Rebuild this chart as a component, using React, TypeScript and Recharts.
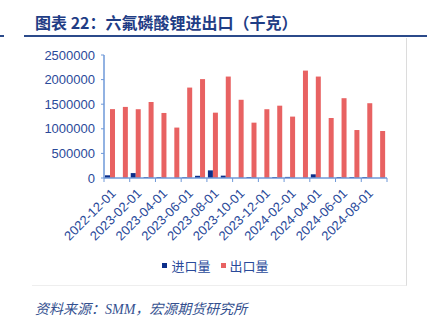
import React from 'react';
import { Bar, BarChart, Legend, XAxis, YAxis } from 'recharts';

const months = [
  '2022-12-01', '2023-01-01', '2023-02-01', '2023-03-01', '2023-04-01', '2023-05-01',
  '2023-06-01', '2023-07-01', '2023-08-01', '2023-09-01', '2023-10-01', '2023-11-01',
  '2023-12-01', '2024-01-01', '2024-02-01', '2024-03-01', '2024-04-01', '2024-05-01',
  '2024-06-01', '2024-07-01', '2024-08-01', '2024-09-01',
];
const importKg = [
  55000, 0, 100000, 18000, 18000, 0, 15000, 45000, 155000, 48000, 0,
  20000, 0, 20000, 22000, 0, 75000, 0, 20000, 20000, 20000, 0,
];
const exportKg = [
  1400000, 1445000, 1398000, 1545000, 1322000, 1025000, 1838000, 2010000, 1328000, 2062000, 1590000,
  1125000, 1398000, 1470000, 1248000, 2183000, 2062000, 1220000, 1622000, 975000, 1520000, 955000,
];
const yTicks = [0, 500000, 1000000, 1500000, 2000000, 2500000];
const seriesOrder = ['进口量', '出口量'];

const data = months.map((m, i) => ({ month: m, 进口量: importKg[i], 出口量: exportKg[i] }));

const TEXT_BLUE = '#2a4a9a';
const AXIS_BLUE = '#6e98d8';
const FONT = "'Liberation Sans', Arial, 'Noto Sans CJK SC', sans-serif";

const MonthTick = (props: any) => {
  const { x, y, payload, index } = props;
  const half = payload?.offset ?? 6.4;
  const left = x - half;
  const isLast = index === months.length - 1;
  return (
    <g>
      {index % 2 === 0 && <line x1={left} y1={y - 8} x2={left} y2={y - 4} stroke={AXIS_BLUE} />}
      {isLast && <line x1={x + half} y1={y - 8} x2={x + half} y2={y - 4} stroke={AXIS_BLUE} />}
      {index % 2 === 0 && (
        <text
          x={x + 3}
          y={y + 5}
          textAnchor="end"
          dominantBaseline="central"
          fontSize={13}
          fill={TEXT_BLUE}
          fontFamily={FONT}
          transform={`rotate(-45 ${x + 3} ${y + 5})`}
        >
          {payload.value}
        </text>
      )}
    </g>
  );
};

const LegendContent = (props: any) => {
  const { payload = [] } = props;
  const items = [...payload].sort(
    (a: any, b: any) => seriesOrder.indexOf(a.value) - seriesOrder.indexOf(b.value),
  );
  return (
    <div style={{ display: 'flex', justifyContent: 'center', gap: 10, fontSize: 13, color: TEXT_BLUE }}>
      {items.map((p: any) => (
        <span key={p.value} style={{ display: 'flex', alignItems: 'center' }}>
          <span style={{ width: 5, height: 5, background: p.color, marginRight: 4 }} />
          {p.value}
        </span>
      ))}
    </div>
  );
};

export default function App() {
  return (
    <div
      style={{
        position: 'absolute',
        left: 0,
        top: 0,
        width: 433,
        height: 329,
        background: '#fff',
        fontFamily: FONT,
        overflow: 'hidden',
      }}
    >
      <div
        style={{
          position: 'absolute',
          left: 35,
          top: 12,
          fontSize: 16,
          fontWeight: 700,
          color: '#1f3d85',
          fontFamily: "'Noto Sans CJK SC', sans-serif",
          lineHeight: '20px',
          whiteSpace: 'nowrap',
        }}
      >
        图表 22：六氟磷酸锂进出口（千克）
      </div>
      <div style={{ position: 'absolute', left: 24, top: 35, width: 403, height: 2, background: '#2b4a8a' }} />
      <div style={{ position: 'absolute', left: 0, top: 35, width: 4, height: 2, background: '#2b4a8a' }} />
      <div
        style={{
          position: 'absolute',
          left: 32,
          top: 38,
          width: 374,
          height: 247,
          borderRight: '1px solid #dcdcdc',
          borderBottom: '1px solid #eeeeee',
        }}
      />
      <div style={{ position: 'absolute', left: 0, top: 0 }}>
        <BarChart
          width={406}
          height={285}
          data={data}
          margin={{ top: 55, right: 19, left: 44, bottom: 9 }}
          barCategoryGap={1}
          barGap={0}
        >
          <XAxis
            dataKey="month"
            interval={0}
            tickLine={false}
            axisLine={{ stroke: AXIS_BLUE, strokeWidth: 1.5 }}
            tick={<MonthTick />}
            height={78}
          />
          <YAxis
            domain={[0, 2500000]}
            ticks={yTicks}
            width={60}
            tickSize={3}
            tickLine={{ stroke: AXIS_BLUE }}
            axisLine={{ stroke: AXIS_BLUE, strokeWidth: 1.5 }}
            tick={{ fill: TEXT_BLUE, fontSize: 13, fontFamily: FONT, dx: -4 }}
          />
          <Legend verticalAlign="bottom" height={20} content={<LegendContent />} />
          <Bar dataKey="进口量" fill="#0c2e8a" isAnimationActive={false} />
          <Bar dataKey="出口量" fill="#e86262" isAnimationActive={false} />
        </BarChart>
      </div>
      <div
        style={{
          position: 'absolute',
          left: 35,
          top: 298,
          fontSize: 14,
          fontStyle: 'italic',
          color: '#33508f',
          fontFamily: "'Liberation Serif', 'Noto Sans CJK SC', serif",
          whiteSpace: 'nowrap',
        }}
      >
        资料来源：SMM，宏源期货研究所
      </div>
    </div>
  );
}
